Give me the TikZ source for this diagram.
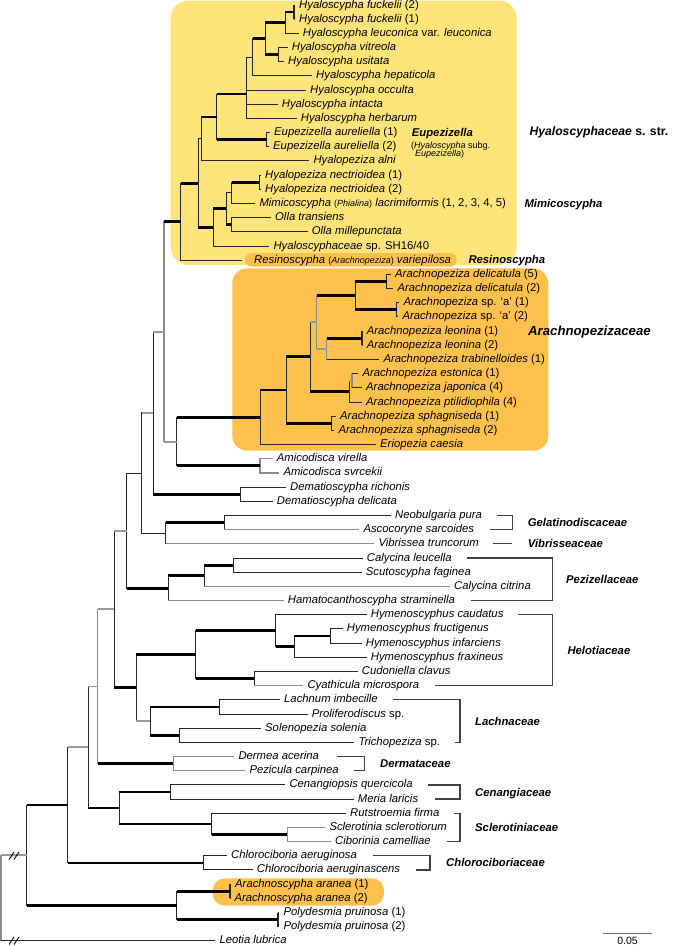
\documentclass[tikz,border=0pt]{standalone}
\usepackage{fontspec}
\setmainfont{Liberation Sans}
\definecolor{hyay}{RGB}{255,228,122}
\definecolor{arao}{RGB}{255,193,78}
\newcommand{\hbr}[3]{\draw[#1] (#2 |- #3) -- (#3);}
\newcommand{\vbr}[4]{\draw[#1] (#2 |- #3) -- (#2 |- #4);}
\newcommand{\smalltx}{\fontsize{9}{10}\selectfont}
\begin{document}
\begin{tikzpicture}[x=1pt,y=-1pt,
 tn/.style={line width=1pt, black!85},
 tk/.style={line width=2.8pt, black},
 gr/.style={line width=1.8pt, black!40},
 gl/.style={line width=1.3pt, black!45},
 vt/.style={line width=1pt, black!85, line cap=rect},
 vk/.style={line width=2pt, black!85},
 vg/.style={line width=1.2pt, black!45, line cap=rect},
 lab/.style={anchor=base west, inner sep=0pt, xshift=4pt, yshift=-3pt, font=\fontsize{11.3}{13}\selectfont\itshape},
 clade/.style={anchor=base west, inner sep=0pt, yshift=-4pt, font=\fontsize{11.3}{13}\selectfont\bfseries\itshape},
 bigclade/.style={clade, font=\fontsize{12.2}{14}\selectfont\bfseries\itshape},
 sub/.style={anchor=base west, inner sep=0pt, yshift=-3pt, font=\smalltx},
 brk/.style={line width=1.3pt, black!75},
]
\useasboundingbox (0,0) rectangle (679,946);
% highlight boxes
\fill[hyay, rounded corners=18pt] (170.7,0.5) rectangle (516.7,265);
\fill[arao, rounded corners=15pt] (232.3,268.3) rectangle (548.3,450.7);
\fill[arao, rounded corners=6.5pt] (245,253) rectangle (456.7,266.5);
\fill[arao, rounded corners=12pt] (212.7,878.3) rectangle (384,905.7);
% leaf tips
\coordinate (l0) at (295,5);
\coordinate (l1) at (295,19.18);
\coordinate (l2) at (298.7,33.36);
\coordinate (l3) at (287.7,47.54);
\coordinate (l4) at (284,61.72);
\coordinate (l5) at (312,75.9);
\coordinate (l6) at (306,90.08);
\coordinate (l7) at (277.7,104.26);
\coordinate (l8) at (296.7,118.44);
\coordinate (l9) at (270,132.62);
\coordinate (l10) at (269,146.8);
\coordinate (l11) at (309.3,160.98);
\coordinate (l12) at (261,175.16);
\coordinate (l13) at (261,189.34);
\coordinate (l14) at (255.3,203.52);
\coordinate (l15) at (271,217.7);
\coordinate (l16) at (307.7,231.88);
\coordinate (l17) at (269.3,246.06);
\coordinate (l18) at (241.7,260.24);
\coordinate (l19) at (391,274.42);
\coordinate (l20) at (393.3,288.6);
\coordinate (l21) at (399.3,302.78);
\coordinate (l22) at (398.3,316.96);
\coordinate (l23) at (362.7,331.14);
\coordinate (l24) at (362.7,345.32);
\coordinate (l25) at (379.3,359.5);
\coordinate (l26) at (358.3,373.68);
\coordinate (l27) at (362,387.86);
\coordinate (l28) at (362,402.04);
\coordinate (l29) at (336,416.22);
\coordinate (l30) at (334.3,430.4);
\coordinate (l31) at (376,444.58);
\coordinate (l32) at (272.7,458.76);
\coordinate (l33) at (279.3,472.94);
\coordinate (l34) at (286,487.12);
\coordinate (l35) at (272.7,501.3);
\coordinate (l36) at (391,515.48);
\coordinate (l37) at (359.3,529.66);
\coordinate (l38) at (374.3,543.84);
\coordinate (l39) at (362.7,558.02);
\coordinate (l40) at (361.7,572.2);
\coordinate (l41) at (450,586.38);
\coordinate (l42) at (283.7,600.56);
\coordinate (l43) at (366.7,614.74);
\coordinate (l44) at (342.7,628.92);
\coordinate (l45) at (361.7,643.1);
\coordinate (l46) at (366.7,657.28);
\coordinate (l47) at (357.7,671.46);
\coordinate (l48) at (303.3,685.64);
\coordinate (l49) at (280,699.82);
\coordinate (l50) at (307.7,714);
\coordinate (l51) at (261,728.18);
\coordinate (l52) at (354.3,742.36);
\coordinate (l53) at (234.3,756.54);
\coordinate (l54) at (245.3,770.72);
\coordinate (l55) at (285.3,784.9);
\coordinate (l56) at (353.7,799.08);
\coordinate (l57) at (346,813.26);
\coordinate (l58) at (325.3,827.44);
\coordinate (l59) at (331,841.62);
\coordinate (l60) at (227,855.8);
\coordinate (l61) at (252.7,869.98);
\coordinate (l62) at (231,884.16);
\coordinate (l63) at (230.3,898.34);
\coordinate (l64) at (279.3,912.52);
\coordinate (l65) at (279.3,926.7);
\coordinate (l66) at (215.3,940.88);
% internal nodes
\coordinate (fuck) at (294,12.09);
\coordinate (fl) at (285,22.7);
\coordinate (vu) at (278.3,54.63);
\coordinate (a1) at (265,38.67);
\coordinate (a2) at (252.7,57.28);
\coordinate (a3) at (246.7,94);
\coordinate (EU) at (266.7,139.71);
\coordinate (A) at (216.7,116.9);
\coordinate (B) at (201.7,138.9);
\coordinate (NP) at (259.3,182.25);
\coordinate (G) at (231.7,192.9);
\coordinate (H) at (231,224.79);
\coordinate (F) at (226,208.8);
\coordinate (E) at (213.3,227.4);
\coordinate (D) at (198.3,183.2);
\coordinate (I) at (180.7,221.7);
\coordinate (DP) at (386.7,281.5);
\coordinate (SA) at (396.7,309.87);
\coordinate (Q) at (355,295.7);
\coordinate (LP) at (361.7,338.23);
\coordinate (R) at (326.7,348.87);
\coordinate (P) at (316.7,322.3);
\coordinate (O2) at (352,380.77);
\coordinate (O) at (349,391.4);
\coordinate (N) at (310,356.85);
\coordinate (SP) at (331.7,423.31);
\coordinate (M) at (286,390.08);
\coordinate (L) at (260,417.33);
\coordinate (AM2) at (260,465.85);
\coordinate (K) at (176.7,441.6);
\coordinate (J) at (164,331.65);
\coordinate (DE) at (240,494.2);
\coordinate (S) at (153.3,412.9);
\coordinate (GD) at (224.3,522.57);
\coordinate (U) at (165.7,533.2);
\coordinate (T) at (141.7,473.05);
\coordinate (Y) at (233.3,565.11);
\coordinate (X) at (204,575.75);
\coordinate (W) at (168.3,588.15);
\coordinate (V) at (126.7,530.6);
\coordinate (AG) at (330,636.01);
\coordinate (AF) at (294.3,646.65);
\coordinate (AD) at (275.7,630.7);
\coordinate (AE) at (254,678.55);
\coordinate (AB) at (195.7,654.6);
\coordinate (AH) at (219.3,706.91);
\coordinate (AI) at (179.3,735.27);
\coordinate (AC) at (150,721.09);
\coordinate (AA) at (136,687.85);
\coordinate (Z) at (114.3,609.2);
\coordinate (DM) at (173.3,763.63);
\coordinate (AJ) at (97.7,686.4);
\coordinate (AM) at (170.7,791.99);
\coordinate (AO) at (287.3,834.53);
\coordinate (AN) at (211.7,823.9);
\coordinate (AL) at (119.3,807.9);
\coordinate (AK) at (88.3,747.2);
\coordinate (AQ) at (203.3,862.89);
\coordinate (AP) at (67.7,805);
\coordinate (AT) at (230,891.25);
\coordinate (AU) at (278.3,919.61);
\coordinate (AS) at (176.7,905.43);
\coordinate (AR) at (26.7,855.2);
\coordinate (root) at (1,898);
% verticals
\vbr{vk}{fuck}{l0}{l1}
\vbr{vt}{fl}{fuck}{l2}
\vbr{vt}{vu}{l3}{l4}
\vbr{vt}{a1}{fl}{vu}
\vbr{vt}{a2}{a1}{l5}
\vbr{vt}{a3}{a2}{l8}
\vbr{vt}{EU}{l9}{l10}
\vbr{vt}{A}{a3}{EU}
\vbr{vt}{B}{A}{l11}
\vbr{vt}{NP}{l12}{l13}
\vbr{vt}{G}{NP}{l14}
\vbr{vt}{H}{l15}{l16}
\vbr{vt}{F}{G}{H}
\vbr{vt}{E}{F}{l17}
\vbr{vt}{D}{B}{E}
\vbr{vt}{I}{D}{l18}
\vbr{vg}{J}{I}{K}
\vbr{vt}{S}{J}{DE}
\vbr{vt}{K}{L}{AM2}
\vbr{vg}{AM2}{l32}{l33}
\vbr{vt}{L}{M}{l31}
\vbr{vt}{M}{N}{SP}
\vbr{vt}{SP}{l29}{l30}
\vbr{vt}{N}{P}{O}
\vbr{vg}{P}{Q}{R}
\vbr{vt}{Q}{DP}{SA}
\vbr{vt}{DP}{l19}{l20}
\vbr{vt}{SA}{l21}{l22}
\vbr{vg}{R}{LP}{l25}
\vbr{vk}{LP}{l23}{l24}
\vbr{vt}{O}{O2}{l28}
\vbr{vg}{O2}{l26}{l27}
\vbr{vt}{DE}{l34}{l35}
\vbr{vt}{T}{S}{U}
\vbr{vt}{U}{GD}{l38}
\vbr{vt}{GD}{l36}{l37}
\vbr{vt}{V}{T}{W}
\vbr{vt}{W}{X}{l42}
\vbr{vt}{X}{Y}{l41}
\vbr{vt}{Y}{l39}{l40}
\vbr{vt}{Z}{V}{AA}
\vbr{vt}{AA}{AB}{AC}
\vbr{vt}{AB}{AD}{AE}
\vbr{vt}{AD}{l43}{AF}
\vbr{vt}{AF}{AG}{l46}
\vbr{vt}{AG}{l44}{l45}
\vbr{vt}{AE}{l47}{l48}
\vbr{vt}{AC}{AH}{AI}
\vbr{vt}{AH}{l49}{l50}
\vbr{vt}{AI}{l51}{l52}
\vbr{vg}{AJ}{Z}{DM}
\vbr{vg}{DM}{l53}{l54}
\vbr{vt}{AK}{AJ}{AL}
\vbr{vt}{AL}{AM}{AN}
\vbr{vt}{AM}{l55}{l56}
\vbr{vt}{AN}{l57}{AO}
\vbr{vg}{AO}{l58}{l59}
\vbr{vt}{AP}{AK}{AQ}
\vbr{vt}{AQ}{l60}{l61}
\vbr{vt}{AR}{AP}{AS}
\vbr{vt}{AS}{AT}{AU}
\vbr{vk}{AT}{l62}{l63}
\vbr{vk}{AU}{l64}{l65}
\vbr{vg}{root}{AR}{l66}
% horizontal branches
\hbr{tk}{fl}{fuck} \hbr{tn}{fuck}{l0} \hbr{tn}{fuck}{l1} \hbr{tn}{fl}{l2}
\hbr{tk}{a1}{fl} \hbr{tk}{a1}{vu} \hbr{tn}{vu}{l3} \hbr{tn}{vu}{l4}
\hbr{tk}{a2}{a1} \hbr{tn}{a2}{l5} \hbr{tn}{a3}{a2}
\hbr{tn}{a3}{l6} \hbr{tn}{a3}{l7} \hbr{tn}{a3}{l8}
\hbr{tk}{A}{a3} \hbr{tk}{A}{EU} \hbr{tn}{EU}{l9} \hbr{tn}{EU}{l10}
\hbr{tk}{B}{A} \hbr{tn}{B}{l11} \hbr{tn}{D}{B} \hbr{tk}{D}{E}
\hbr{tk}{E}{F} \hbr{tn}{E}{l17} \hbr{tn}{F}{G} \hbr{tk}{F}{H}
\hbr{tk}{G}{NP} \hbr{tn}{G}{l14} \hbr{tn}{NP}{l12} \hbr{tn}{NP}{l13}
\hbr{tn}{H}{l15} \hbr{tn}{H}{l16}
\hbr{tk}{I}{D} \hbr{tn}{I}{l18}
\hbr{tk}{J}{I} \hbr{gr}{J}{K} \hbr{gr}{S}{J} \hbr{tk}{S}{DE}
\hbr{tk}{K}{L} \hbr{tk}{K}{AM2} \hbr{gl}{AM2}{l32} \hbr{gl}{AM2}{l33}
\hbr{tk}{L}{M} \hbr{tn}{L}{l31} \hbr{tk}{M}{N} \hbr{tk}{M}{SP}
\hbr{tn}{SP}{l29} \hbr{tn}{SP}{l30}
\hbr{gr}{N}{P} \hbr{tk}{N}{O} \hbr{tk}{P}{Q} \hbr{gr}{P}{R}
\hbr{tk}{Q}{DP} \hbr{tk}{Q}{SA}
\hbr{tn}{DP}{l19} \hbr{tn}{DP}{l20} \hbr{tn}{SA}{l21} \hbr{tn}{SA}{l22}
\hbr{tk}{R}{LP} \hbr{tn}{R}{l25} \hbr{tn}{LP}{l23} \hbr{tn}{LP}{l24}
\hbr{gr}{O}{O2} \hbr{tn}{O}{l28} \hbr{tn}{O2}{l26} \hbr{tn}{O2}{l27}
\hbr{tn}{DE}{l34} \hbr{tn}{DE}{l35}
\hbr{gr}{T}{S} \hbr{tn}{T}{U} \hbr{tk}{U}{GD} \hbr{gl}{U}{l38}
\hbr{tn}{GD}{l36} \hbr{gl}{GD}{l37}
\hbr{tn}{V}{T} \hbr{tk}{V}{W} \hbr{tk}{W}{X} \hbr{gl}{W}{l42}
\hbr{tk}{X}{Y} \hbr{gl}{X}{l41} \hbr{tn}{Y}{l39} \hbr{tn}{Y}{l40}
\hbr{gr}{Z}{V} \hbr{tk}{Z}{AA} \hbr{tk}{AA}{AB} \hbr{gr}{AA}{AC}
\hbr{tk}{AB}{AD} \hbr{tk}{AB}{AE} \hbr{tn}{AD}{l43} \hbr{tk}{AD}{AF}
\hbr{tk}{AF}{AG} \hbr{tn}{AF}{l46} \hbr{tn}{AG}{l44} \hbr{tn}{AG}{l45}
\hbr{tn}{AE}{l47} \hbr{gl}{AE}{l48}
\hbr{tk}{AC}{AH} \hbr{tk}{AC}{AI} \hbr{tn}{AH}{l49} \hbr{tn}{AH}{l50}
\hbr{tn}{AI}{l51} \hbr{tn}{AI}{l52}
\hbr{gr}{AJ}{Z} \hbr{tk}{AJ}{DM} \hbr{gl}{DM}{l53} \hbr{gl}{DM}{l54}
\hbr{gr}{AK}{AJ} \hbr{tk}{AK}{AL} \hbr{tk}{AL}{AM} \hbr{tk}{AL}{AN}
\hbr{tn}{AM}{l55} \hbr{tn}{AM}{l56} \hbr{tn}{AN}{l57} \hbr{tk}{AN}{AO}
\hbr{gl}{AO}{l58} \hbr{gl}{AO}{l59}
\hbr{gr}{AP}{AK} \hbr{tk}{AP}{AQ} \hbr{tn}{AQ}{l60} \hbr{tn}{AQ}{l61}
\hbr{tk}{AR}{AP} \hbr{tk}{AR}{AS} \hbr{tk}{AS}{AT} \hbr{tk}{AS}{AU}
\hbr{tn}{AT}{l62} \hbr{tn}{AT}{l63} \hbr{tn}{AU}{l64} \hbr{tn}{AU}{l65}
\hbr{gr}{root}{AR} \hbr{tn}{root}{l66}
% break marks
\draw[line width=0.9pt] (9,859.5) -- (14,852) (14,859.5) -- (19,852);
\draw[line width=0.9pt] (9,944.5) -- (14,937) (14,944.5) -- (19,937);
% leaf labels
\node[lab] (t0) at (l0) {Hyaloscypha fuckelii \textup{(2)}};
\node[lab] (t1) at (l1) {Hyaloscypha fuckelii \textup{(1)}};
\node[lab] (t2) at (l2) {Hyaloscypha leuconica \textup{var.} leuconica};
\node[lab] (t3) at (l3) {Hyaloscypha vitreola};
\node[lab] (t4) at (l4) {Hyaloscypha usitata};
\node[lab] (t5) at (l5) {Hyaloscypha hepaticola};
\node[lab] (t6) at (l6) {Hyaloscypha occulta};
\node[lab] (t7) at (l7) {Hyaloscypha intacta};
\node[lab] (t8) at (l8) {Hyaloscypha herbarum};
\node[lab] (t9) at (l9) {Eupezizella aureliella \textup{(1)}};
\node[lab] (t10) at (l10) {Eupezizella aureliella \textup{(2)}};
\node[lab] (t11) at (l11) {Hyalopeziza alni};
\node[lab] (t12) at (l12) {Hyalopeziza nectrioidea \textup{(1)}};
\node[lab] (t13) at (l13) {Hyalopeziza nectrioidea \textup{(2)}};
\node[lab] (t14) at (l14) {Mimicoscypha {\smalltx\textup{(}Phialina\textup{)}} lacrimiformis \textup{(1, 2, 3, 4, 5)}};
\node[lab] (t15) at (l15) {Olla transiens};
\node[lab] (t16) at (l16) {Olla millepunctata};
\node[lab] (t17) at (l17) {Hyaloscyphaceae \textup{sp. SH16/40}};
\node[lab, xshift=8.3pt] (t18) at (l18) {Resinoscypha {\smalltx\textup{(}Arachnopeziza\textup{)}} variepilosa};
\node[lab] (t19) at (l19) {Arachnopeziza delicatula \textup{(5)}};
\node[lab] (t20) at (l20) {Arachnopeziza delicatula \textup{(2)}};
\node[lab] (t21) at (l21) {Arachnopeziza \textup{sp. ‘a’ (1)}};
\node[lab] (t22) at (l22) {Arachnopeziza \textup{sp. ‘a’ (2)}};
\node[lab] (t23) at (l23) {Arachnopeziza leonina \textup{(1)}};
\node[lab] (t24) at (l24) {Arachnopeziza leonina \textup{(2)}};
\node[lab] (t25) at (l25) {Arachnopeziza trabinelloides \textup{(1)}};
\node[lab] (t26) at (l26) {Arachnopeziza estonica \textup{(1)}};
\node[lab] (t27) at (l27) {Arachnopeziza japonica \textup{(4)}};
\node[lab] (t28) at (l28) {Arachnopeziza ptilidiophila \textup{(4)}};
\node[lab] (t29) at (l29) {Arachnopeziza sphagniseda \textup{(1)}};
\node[lab] (t30) at (l30) {Arachnopeziza sphagniseda \textup{(2)}};
\node[lab] (t31) at (l31) {Eriopezia caesia};
\node[lab] (t32) at (l32) {Amicodisca virella};
\node[lab] (t33) at (l33) {Amicodisca svrcekii};
\node[lab] (t34) at (l34) {Dematioscypha richonis};
\node[lab] (t35) at (l35) {Dematioscypha delicata};
\node[lab] (t36) at (l36) {Neobulgaria pura};
\node[lab] (t37) at (l37) {Ascocoryne sarcoides};
\node[lab] (t38) at (l38) {Vibrissea truncorum};
\node[lab] (t39) at (l39) {Calycina leucella};
\node[lab] (t40) at (l40) {Scutoscypha faginea};
\node[lab] (t41) at (l41) {Calycina citrina};
\node[lab] (t42) at (l42) {Hamatocanthoscypha straminella};
\node[lab] (t43) at (l43) {Hymenoscyphus caudatus};
\node[lab] (t44) at (l44) {Hymenoscyphus fructigenus};
\node[lab] (t45) at (l45) {Hymenoscyphus infarciens};
\node[lab] (t46) at (l46) {Hymenoscyphus fraxineus};
\node[lab] (t47) at (l47) {Cudoniella clavus};
\node[lab] (t48) at (l48) {Cyathicula microspora};
\node[lab] (t49) at (l49) {Lachnum imbecille};
\node[lab] (t50) at (l50) {Proliferodiscus \textup{sp.}};
\node[lab] (t51) at (l51) {Solenopezia solenia};
\node[lab] (t52) at (l52) {Trichopeziza \textup{sp.}};
\node[lab] (t53) at (l53) {Dermea acerina};
\node[lab] (t54) at (l54) {Pezicula carpinea};
\node[lab] (t55) at (l55) {Cenangiopsis quercicola};
\node[lab] (t56) at (l56) {Meria laricis};
\node[lab] (t57) at (l57) {Rutstroemia firma};
\node[lab] (t58) at (l58) {Sclerotinia sclerotiorum};
\node[lab] (t59) at (l59) {Ciborinia camelliae};
\node[lab] (t60) at (l60) {Chlorociboria aeruginosa};
\node[lab] (t61) at (l61) {Chlorociboria aeruginascens};
\node[lab] (t62) at (l62) {Arachnoscypha aranea \textup{(1)}};
\node[lab] (t63) at (l63) {Arachnoscypha aranea \textup{(2)}};
\node[lab] (t64) at (l64) {Polydesmia pruinosa \textup{(1)}};
\node[lab] (t65) at (l65) {Polydesmia pruinosa \textup{(2)}};
\node[lab] (t66) at (l66) {Leotia lubrica};
% clade labels
\node[bigclade] (cHya) at (529.3,131.7) {Hyaloscyphaceae \textup{s. str.}};
\node[clade] (cEup) at (411.7,132) {Eupezizella};
\node[sub] (cEup2) at (411,145.7) {(\textit{Hyaloscypha} subg.};
\node[sub] (cEup3) at (415,153.3) {\textit{Eupezizella})};
\node[clade] (cMim) at (524.3,203.3) {Mimicoscypha};
\node[clade] (cRes) at (468.3,259) {Resinoscypha};
\node[bigclade, font=\fontsize{13.2}{15}\selectfont\bfseries\itshape] (cAra) at (528,331) {Arachnopezizaceae};
\node[clade] (cGel) at (527.7,522.6) {Gelatinodiscaceae};
\node[clade] (cVib) at (527.7,543.8) {Vibrisseaceae};
\node[clade] (cPez) at (566,579.3) {Pezizellaceae};
\node[clade] (cHel) at (567.3,650.2) {Helotiaceae};
\node[clade] (cLac) at (475,721) {Lachnaceae};
\node[clade] (cDer) at (380,763.6) {Dermataceae};
\node[clade] (cCen) at (475,792) {Cenangiaceae};
\node[clade] (cScl) at (475,827.4) {Sclerotiniaceae};
\node[clade] (cChl) at (446,862.9) {Chlorociboriaceae};
% brackets
\draw[brk] (496.7,515.48) -- (512.7,515.48) -- (512.7,529.66) -- (490,529.66);
\draw[brk] (492.7,543.84) -- (512.3,543.84);
\draw[brk] (467.3,558.02) -- (552.3,558.02) -- (552.3,600.56) -- (471,600.56);
\draw[brk] (518.3,614.74) -- (552.3,614.74) -- (552.3,685.64) -- (435,685.64);
\draw[brk] (393.3,699.82) -- (460,699.82) -- (460,742.36) -- (455,742.36);
\draw[brk] (336.7,756.54) -- (364.3,756.54) -- (364.3,770.72) -- (354.3,770.72);
\draw[brk] (427.5,784.9) -- (460,784.9) -- (460,799.08) -- (435,799.08);
\draw[brk] (454,813.26) -- (460,813.26) -- (460,841.62) -- (446.7,841.62);
\draw[brk] (373.3,855.8) -- (430,855.8) -- (430,869.98) -- (416,869.98);
% scale bar
\coordinate (sb1) at (602.7,933.3);
\coordinate (sb2) at (652.3,933.3);
\draw[line width=1.2pt, black!55] (sb1) -- (sb2);
\node[anchor=base, inner sep=0pt, font=\fontsize{10.5}{12}\selectfont] (sbt) at (627.5,944) {0.05};
\end{tikzpicture}
\end{document}
